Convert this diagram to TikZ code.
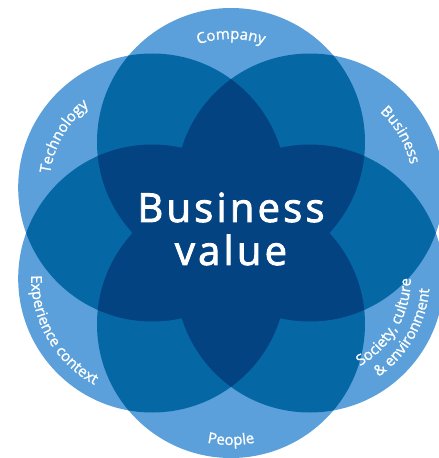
\documentclass[tikz,border=0pt]{standalone}
\usepackage{fontspec}
\setmainfont{Open Sans}
\usetikzlibrary{decorations.text}

\definecolor{petallight}{HTML}{5BA0DA}
\definecolor{petalmid}{HTML}{0568A5}
\definecolor{petaldark}{HTML}{034382}

\newcommand{\ringfont}{\fontsize{15}{18}\selectfont\addfontfeatures{FakeBold=1.2}\color{white}}

\begin{document}
\begin{tikzpicture}[x=1pt, y=1pt,
  petal/.style={fill=petallight},
  overlap/.style={fill=petalmid},
  core/.style={fill=petaldark},
  ringtext/.style={decorate, decoration={text along path, text align=center, text={|\ringfont|#1}}},
  title/.style={text=white, align=center, font=\fontsize{40}{43}\selectfont\addfontfeatures{LetterSpace=8,FakeBold=2.2}},
]

\useasboundingbox (-231,-225) rectangle (208,233);

% === Six circle centres, from the top going anticlockwise ===
\foreach \i in {0,...,5}
  \coordinate (c\i) at (90+60*\i:91pt);

% === One layer ===
\foreach \i in {0,...,5}
  \path[petal] (c\i) circle[radius=134pt];

% === Two layers ===
\foreach \i in {0,...,4} {
  \pgfmathtruncatemacro{\from}{\i+1}
  \foreach \j in {\from,...,5} {
    \begin{scope}
      \clip (c\i) circle[radius=134pt];
      \path[overlap] (c\j) circle[radius=134pt];
    \end{scope}
  }
}

% === Three layers and more ===
\foreach \i in {0,...,3} {
  \pgfmathtruncatemacro{\from}{\i+1}
  \foreach \j in {\from,...,4} {
    \pgfmathtruncatemacro{\next}{\j+1}
    \foreach \k in {\next,...,5} {
      \begin{scope}
        \clip (c\i) circle[radius=134pt];
        \clip (c\j) circle[radius=134pt];
        \path[core] (c\k) circle[radius=134pt];
      \end{scope}
    }
  }
}

% === Labels round the rim ===
\path[ringtext=Company] (c0) ++(170:103pt) arc[start angle=170, end angle=10, radius=103pt];
\path[ringtext=Technology] (c1) ++(230:103pt) arc[start angle=230, end angle=70, radius=103pt];
\path[ringtext=Business] (c5) ++(110:103pt) arc[start angle=110, end angle=-50, radius=103pt];
\path[ringtext=Experience context] (c2) ++(130:121pt) arc[start angle=130, end angle=290, radius=121pt];
\path[ringtext=People] (c3) ++(190:121pt) arc[start angle=190, end angle=350, radius=121pt];
\path[ringtext={Society, culture}] (c4) ++(250:101pt) arc[start angle=250, end angle=410, radius=101pt];
\path[ringtext={{\&} environment}] (c4) ++(250:120pt) arc[start angle=250, end angle=410, radius=120pt];

\node[title] (value) at (0,4) {Business\\value};

\end{tikzpicture}
\end{document}
